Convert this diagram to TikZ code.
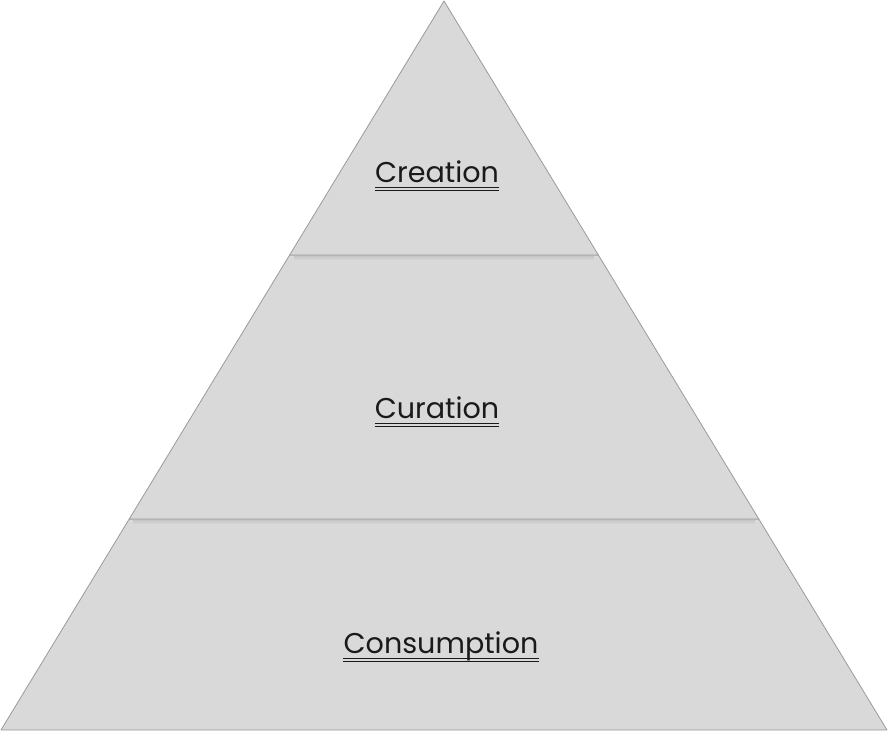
\documentclass[tikz,border=0pt]{standalone}
\usepackage{fontspec}
\setmainfont{Poppins}
\usetikzlibrary{calc}
\definecolor{tierfill}{HTML}{D9D9D9}
\definecolor{tieredge}{HTML}{9A9A9A}
\definecolor{tiershade}{HTML}{B4B4B4}
\definecolor{inkdark}{HTML}{1A1A1A}

\begin{document}
\begin{tikzpicture}[
  x=1pt, y=-1pt,
  tier/.style={fill=tierfill, draw=tieredge, line width=0.8pt, line join=round},
  lbl/.style={inkdark, font=\fontsize{28.6}{34}\selectfont, anchor=base, inner sep=0pt},
  uline/.style={inkdark, line width=1.0pt},
]

% ══════════════════════════════════════════════════════
% Geometry setup
% ══════════════════════════════════════════════════════
% apex, base and the two cut levels (pixel units)
\pgfmathsetmacro{\ax}{444}
\pgfmathsetmacro{\ay}{1}
\pgfmathsetmacro{\by}{730}
\pgfmathsetmacro{\hw}{443}
\pgfmathsetmacro{\lA}{255}
\pgfmathsetmacro{\lB}{519}
% half width of the pyramid at the cut levels
\pgfmathsetmacro{\wA}{\hw/(\by-\ay)*(\lA-\ay)}
\pgfmathsetmacro{\wB}{\hw/(\by-\ay)*(\lB-\ay)}

\useasboundingbox (0,0) rectangle (888,731);

% ══════════════════════════════════════════════════════
% Tiers
% ══════════════════════════════════════════════════════
\draw[tier] (\ax-\hw,\by) -- (\ax+\hw,\by) -- (\ax+\wB,\lB) -- (\ax-\wB,\lB) -- cycle;
\draw[tier] (\ax-\wB,\lB) -- (\ax+\wB,\lB) -- (\ax+\wA,\lA) -- (\ax-\wA,\lA) -- cycle;
\draw[tier] (\ax-\wA,\lA) -- (\ax+\wA,\lA) -- (\ax,\ay) -- cycle;

% soft shadow under each cut
\foreach \lv/\w in {\lA/\wA, \lB/\wB}{
  \foreach \d/\op in {1.6/0.55, 3.0/0.3, 4.2/0.12}{
    \draw[tiershade, opacity=\op, line width=1.4pt]
      (\ax-\w+4,\lv+\d) -- (\ax+\w-4,\lv+\d);
  }
}

% ══════════════════════════════════════════════════════
% Labels (double underlined)
% ══════════════════════════════════════════════════════
\node[lbl] (creation) at (437,182) {Creation};
\node[lbl] (curation) at (437,418) {Curation};
\node[lbl] (consumption) at (441,653) {Consumption};

\foreach \n in {creation, curation, consumption}{
  \draw[uline] ($(\n.base west)+(0,5.5)$) -- ($(\n.base east)+(0,5.5)$);
  \draw[uline] ($(\n.base west)+(0,8.5)$) -- ($(\n.base east)+(0,8.5)$);
}

\end{tikzpicture}
\end{document}
